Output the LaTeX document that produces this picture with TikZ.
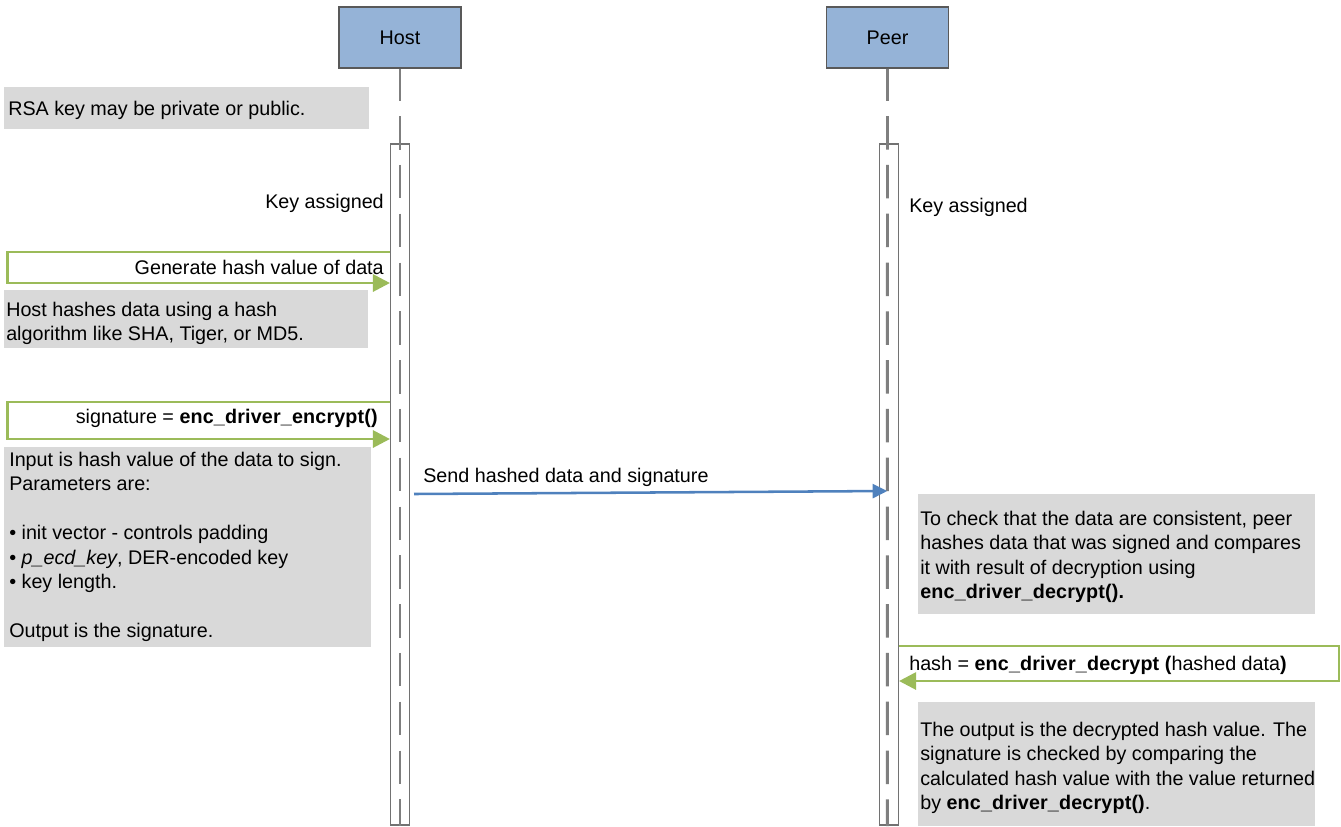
\documentclass[tikz,border=0pt]{standalone}
\usepackage{fontspec}
\setmainfont{Liberation Sans}
\usetikzlibrary{arrows.meta}
\definecolor{headfill}{HTML}{95B3D7}
\definecolor{headline}{HTML}{595959}
\definecolor{notefill}{HTML}{D9D9D9}
\definecolor{lifegray}{HTML}{7F7F7F}
\definecolor{msggreen}{HTML}{9BBB59}
\definecolor{msgblue}{HTML}{4F81BD}
\newcommand{\bfsp}[1]{{\bfseries\addfontfeature{LetterSpace=0.8}#1}}
\begin{document}
\begin{tikzpicture}[x=0.75pt,y=-0.75pt,
  txt/.style={inner sep=0pt,font=\fontsize{14.8}{18.4}\selectfont},
  hd/.style={draw=headline,line width=1.2pt,fill=headfill,minimum width=91.5pt,minimum height=45.75pt,inner sep=0pt,font=\fontsize{14.8}{18.4}\selectfont},
  act/.style={draw=lifegray!90!black,line width=1.1pt,fill=white,minimum width=14.25pt,minimum height=510.75pt,inner sep=0pt},
  life/.style={draw=lifegray,line width=2.2pt,dash pattern=on 25.1pt off 11.5pt,dash phase=1.1pt},
  note/.style={fill=notefill},
  garr/.style={draw=msggreen,line width=2.2pt,-{Triangle[length=12.75pt,width=12.75pt]}},
  barr/.style={draw=msgblue,line width=1.9pt,-{Triangle[length=11pt,width=10.5pt]}}]
\useasboundingbox (0,0) rectangle (1341,826);

% headers
\node[hd] (host) at (400,37.5) {Host};
\node[hd] (peer) at (887.5,37.5) {Peer};

% activation bars and lifelines
\node[act] (hact) at (400.2,484.5) {};
\node[act] (pact) at (888.8,484.5) {};
\coordinate (hbot) at (400,826);
\coordinate (pbot) at (887.3,826);
\draw[life] (host.south) -- (hbot);
\draw[life] (peer.south) -- (pbot);

% note 1
\fill[note] (4,87) rectangle (369,129);
\node[txt,anchor=base west] (n1a) at (8,115) {RSA key may be private or public.};

% key assigned
\node[txt,anchor=base east] (ka1) at (384,208) {Key assigned};
\node[txt,anchor=base west] (ka2) at (909,212) {Key assigned};

% self message 1
\draw[garr] (hact.west |- 0,252) -- (7.5,252) |- (hact.west |- 0,283);
\node[txt,anchor=base east] (m1) at (384,274) {Generate hash value of data};

% note 2
\fill[note] (4,290) rectangle (368,348);
\node[txt,anchor=base west] (n2a) at (6,316) {Host hashes data using a hash};
\node[txt,anchor=base west] (n2b) at (6,340) {algorithm like SHA, Tiger, or MD5.};

% self message 2
\draw[garr] (hact.west |- 0,402) -- (7.5,402) |- (hact.west |- 0,439);
\node[txt,anchor=base east] (m2) at (378,423) {signature = \bfsp{enc\_driver\_encrypt()}};

% note 3
\fill[note] (4,447) rectangle (371,647);
\node[txt,anchor=base west] (n3a) at (9,466) {Input is hash value of the data to sign.};
\node[txt,anchor=base west] (n3b) at (9,490.5) {Parameters are:};
\node[txt,anchor=base west] (n3c) at (9,539.5) {\textbullet\ init vector - controls padding};
\node[txt,anchor=base west] (n3d) at (9,564) {\textbullet\ \textit{p\_ecd\_key}, DER-encoded key};
\node[txt,anchor=base west] (n3e) at (9,588.5) {\textbullet\ key length.};
\node[txt,anchor=base west] (n3f) at (9,637.5) {Output is the signature.};

% message host -> peer
\coordinate (s1) at (414,494);
\coordinate (s2) at (887.3,491);
\draw[barr] (s1) -- (s2);
\node[txt,anchor=base west] (m3) at (423,482) {Send hashed data and signature};

% note 4
\fill[note] (918,494) rectangle (1315,614);
\node[txt,anchor=base west] (n4a) at (920,525) {To check that the data are consistent, peer};
\node[txt,anchor=base west] (n4b) at (920,549.5) {hashes data that was signed and compares};
\node[txt,anchor=base west] (n4c) at (920,574) {it with result of decryption using};
\node[txt,anchor=base west] (n4d) at (920,598.5) {\bfsp{enc\_driver\_decrypt().}};

% self message peer
\draw[garr] (pact.east |- 0,646) -- (1339,646) |- (pact.east |- 0,681);
\node[txt,anchor=base west] (m4) at (909,670) {hash = \bfsp{enc\_driver\_decrypt (}hashed data\textbf{)}};

% note 5
\fill[note] (918,702) rectangle (1315,826);
\node[txt,anchor=base west] (n5a) at (920,736) {The output is the decrypted hash value. The};
\node[txt,anchor=base west] (n5b) at (920,760.5) {signature is checked by comparing the};
\node[txt,anchor=base west] (n5c) at (920,785) {calculated hash value with the value returned};
\node[txt,anchor=base west] (n5d) at (920,809.5) {by \bfsp{enc\_driver\_decrypt()}.};
\end{tikzpicture}
\end{document}
